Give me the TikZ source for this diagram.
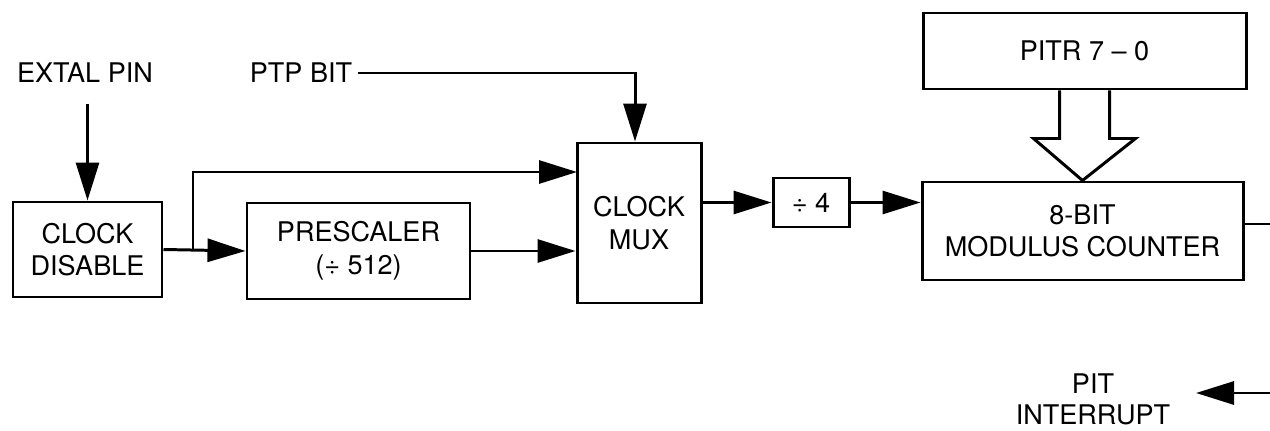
\documentclass[tikz,border=0pt]{standalone}
\usepackage{fontspec}
\setmainfont{TeX Gyre Heros}
\usetikzlibrary{arrows.meta, positioning, calc}

\tikzset{
  blk/.style={draw, line width=1.7pt, align=center, inner sep=2pt},
  lbl/.style={align=center},
  arr/.style={-{Triangle[length=0.76cm,width=0.46cm]}},
  wire/.style={line width=1.7pt}
}

\begin{document}
\begin{tikzpicture}[font=\fontsize{15.4}{18.5}\selectfont]
  \useasboundingbox (0,0) rectangle (25.4,-8.6);
  % blocks
  \node[blk, minimum width=2.98cm, minimum height=1.90cm] (clkdis) at (1.75,-4.99) {CLOCK\\DISABLE};
  \node[blk, minimum width=4.46cm, minimum height=1.92cm] (presc) at (7.17,-5.02) {PRESCALER\\(÷ 512)};
  \node[blk, minimum width=2.48cm, minimum height=3.20cm] (mux) at (12.78,-4.46) {CLOCK\\MUX};
  \node[blk, minimum width=1.52cm, minimum height=0.98cm] (divfour) at (16.22,-4.05) {÷ 4};
  \node[blk, minimum width=6.42cm, minimum height=1.96cm] (counter) at (21.65,-4.62) {8-BIT\\MODULUS COUNTER};
  \node[blk, minimum width=6.46cm, minimum height=1.52cm] (pitr) at (21.69,-1.02) {PITR 7 -- 0};
  % labels
  \node[lbl] (extal) at (1.70,-1.45) {EXTAL PIN};
  \node[lbl] (ptp) at (6.02,-1.46) {PTP BIT};
  \node[lbl, font=\fontsize{15.4}{17.5}\selectfont] (pitint) at (21.86,-7.98) {PIT\\INTERRUPT};
  \coordinate (br) at (3.86,-5.0);
  \coordinate (muxin1) at (11.54,-3.44);
  \coordinate (pitsrc) at (25.4,-7.86);
  \coordinate (pittip) at (23.92,-7.86);

  % connectors
  \draw[wire, arr, shorten <=0.3cm] (extal.south -| clkdis.north) -- (clkdis.north);
  \draw[wire, arr] (clkdis.east) -- (presc.west);
  \draw[wire, arr] (br) |- (muxin1);
  \draw[wire, arr] (presc.east) -- (presc.east -| mux.west);
  \draw[wire, arr] (ptp.east) -| ([xshift=-0.08cm]mux.north);
  \draw[wire, arr] (divfour.west -| mux.east) -- (divfour.west);
  \draw[wire, arr] (divfour.east) -- (divfour.east -| counter.west);
  \draw[wire] ([yshift=0.14cm]counter.east) -- ++(0.6,0);
  \draw[wire, arr] (pitsrc) -- (pittip);

  % wide data path
  \draw[wire, fill=white, line join=miter]
    ($(pitr.south)+(-0.5,0)$) -- ++(0,-0.96) -- ++(-0.52,0) -- (counter.north)
    -- ($(pitr.south)+(1.02,-0.96)$) -- ++(-0.52,0) -- ++(0,0.96);
\end{tikzpicture}
\end{document}
